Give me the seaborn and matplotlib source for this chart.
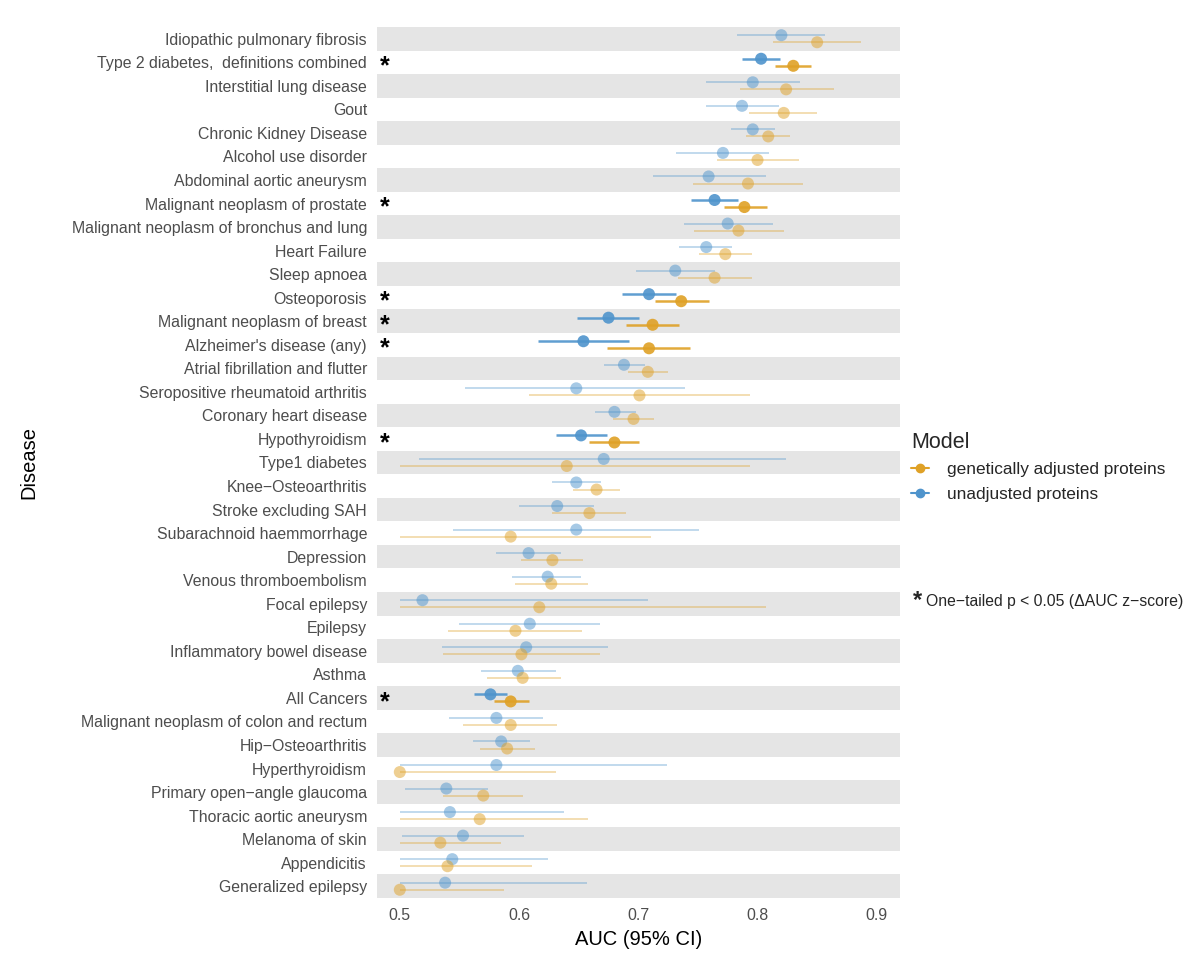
import numpy as np
import pandas as pd
import matplotlib
matplotlib.use("Agg")
import matplotlib.pyplot as plt
import seaborn as sns
from matplotlib.lines import Line2D

# data
diseases = [
    "Idiopathic pulmonary fibrosis", "Type 2 diabetes,  definitions combined",
    "Interstitial lung disease", "Gout", "Chronic Kidney Disease",
    "Alcohol use disorder", "Abdominal aortic aneurysm",
    "Malignant neoplasm of prostate", "Malignant neoplasm of bronchus and lung",
    "Heart Failure", "Sleep apnoea", "Osteoporosis",
    "Malignant neoplasm of breast", "Alzheimer's disease (any)",
    "Atrial fibrillation and flutter", "Seropositive rheumatoid arthritis",
    "Coronary heart disease", "Hypothyroidism", "Type1 diabetes",
    "Knee\u2212Osteoarthritis", "Stroke excluding SAH",
    "Subarachnoid haemmorrhage", "Depression", "Venous thromboembolism",
    "Focal epilepsy", "Epilepsy", "Inflammatory bowel disease", "Asthma",
    "All Cancers", "Malignant neoplasm of colon and rectum",
    "Hip\u2212Osteoarthritis", "Hyperthyroidism", "Primary open\u2212angle glaucoma",
    "Thoracic aortic aneurysm", "Melanoma of skin", "Appendicitis",
    "Generalized epilepsy",
]
significant = [0, 1, 0, 0, 0, 0, 0, 1, 0, 0, 0, 1, 1, 1, 0, 0, 0, 1, 0,
               0, 0, 0, 0, 0, 0, 0, 0, 0, 1, 0, 0, 0, 0, 0, 0, 0, 0]

unadj_auc = [0.820, 0.803, 0.796, 0.787, 0.796, 0.771, 0.759, 0.764, 0.775,
             0.757, 0.731, 0.709, 0.675, 0.654, 0.688, 0.648, 0.680, 0.652,
             0.671, 0.648, 0.632, 0.648, 0.608, 0.624, 0.519, 0.609, 0.606,
             0.599, 0.576, 0.581, 0.585, 0.581, 0.539, 0.542, 0.553, 0.544,
             0.538]
unadj_lo = [0.783, 0.787, 0.757, 0.757, 0.778, 0.732, 0.712, 0.744, 0.738,
            0.734, 0.698, 0.686, 0.649, 0.616, 0.671, 0.555, 0.664, 0.631,
            0.516, 0.628, 0.600, 0.545, 0.581, 0.594, 0.500, 0.550, 0.535,
            0.568, 0.562, 0.541, 0.561, 0.500, 0.504, 0.500, 0.502, 0.500,
            0.500]
unadj_hi = [0.857, 0.819, 0.836, 0.818, 0.815, 0.810, 0.807, 0.784, 0.813,
            0.779, 0.764, 0.732, 0.701, 0.692, 0.706, 0.739, 0.698, 0.674,
            0.824, 0.669, 0.663, 0.751, 0.635, 0.652, 0.708, 0.668, 0.675,
            0.631, 0.590, 0.620, 0.609, 0.724, 0.574, 0.638, 0.604, 0.624,
            0.657]

adj_auc = [0.850, 0.830, 0.824, 0.822, 0.809, 0.800, 0.792, 0.789, 0.784,
           0.773, 0.764, 0.736, 0.712, 0.709, 0.708, 0.701, 0.696, 0.680,
           0.640, 0.665, 0.659, 0.593, 0.628, 0.627, 0.617, 0.597, 0.602,
           0.603, 0.593, 0.593, 0.590, 0.500, 0.570, 0.567, 0.534, 0.540,
           0.500]
adj_lo = [0.813, 0.815, 0.785, 0.793, 0.790, 0.766, 0.746, 0.772, 0.747,
          0.751, 0.733, 0.714, 0.690, 0.674, 0.691, 0.608, 0.679, 0.659,
          0.500, 0.645, 0.628, 0.500, 0.602, 0.597, 0.500, 0.540, 0.536,
          0.573, 0.579, 0.553, 0.567, 0.500, 0.536, 0.500, 0.500, 0.500,
          0.500]
adj_hi = [0.887, 0.845, 0.864, 0.850, 0.827, 0.835, 0.838, 0.808, 0.822,
          0.795, 0.795, 0.759, 0.734, 0.743, 0.725, 0.794, 0.713, 0.701,
          0.794, 0.685, 0.690, 0.711, 0.654, 0.658, 0.807, 0.653, 0.668,
          0.635, 0.608, 0.632, 0.613, 0.631, 0.603, 0.658, 0.585, 0.611,
          0.587]

models = ["genetically adjusted proteins", "unadjusted proteins"]
colors = {"genetically adjusted proteins": "#DFA126",
          "unadjusted proteins": "#4F94CC"}
x_ticks = [0.5, 0.6, 0.7, 0.8, 0.9]

rows = []
for i, d in enumerate(diseases):
    rows.append(dict(disease=d, pos=i - 0.15, model=models[1], auc=unadj_auc[i],
                     lo=unadj_lo[i], hi=unadj_hi[i], sig=significant[i]))
    rows.append(dict(disease=d, pos=i + 0.15, model=models[0], auc=adj_auc[i],
                     lo=adj_lo[i], hi=adj_hi[i], sig=significant[i]))
df = pd.DataFrame(rows)

sns.set_theme(style="white")
plt.rcParams["font.family"] = ["Liberation Sans", "DejaVu Sans"]

fig = plt.figure(figsize=(12, 9.63), dpi=100)
ax = fig.add_axes([0.314, 0.0675, 0.436, 0.9045])

n = len(diseases)
for i in range(0, n, 2):
    ax.axhspan(i - 0.5, i + 0.5, color="#E5E5E5", lw=0, zorder=0)

for is_sig, a_line, a_pt, lw in [(0, 0.45, 0.5, 1.1), (1, 0.9, 0.9, 1.8)]:
    sub = df[df.sig == is_sig]
    for m in models:
        s = sub[sub.model == m]
        ax.hlines(s.pos, s.lo, s.hi, color=colors[m], alpha=a_line, lw=lw, zorder=2)
    sns.scatterplot(data=sub, x="auc", y="pos", hue="model", palette=colors,
                    s=75, alpha=a_pt, edgecolor="none", legend=False, ax=ax,
                    zorder=3)

for i, sg in enumerate(significant):
    if sg:
        ax.text(0.4872, i + 0.17, "*", fontsize=18, ha="center", va="center",
                color="black", fontweight="bold")

ax.set_xlim(0.4807, 0.9195)
ax.set_ylim(n - 0.5, -0.5)
ax.set_yticks(range(n))
ax.set_yticklabels(diseases)
ax.set_xticks(x_ticks)
ax.set_xticklabels([f"{t:.1f}" for t in x_ticks])
ax.tick_params(axis="y", length=0, pad=7, labelsize=11.4, labelcolor="#4D4D4D")
ax.tick_params(axis="x", length=0, pad=7, labelsize=11.4, labelcolor="#4D4D4D")
ax.set_xlabel("AUC (95% CI)", fontsize=14.5, color="black", labelpad=5)
ax.set_ylabel("Disease", fontsize=14.5, color="black", labelpad=24)
sns.despine(ax=ax, left=True, bottom=True)
ax.grid(False)

handles = [Line2D([], [], color=colors[m], marker="o", markersize=6, lw=1.5)
           for m in models]
leg = fig.legend(handles, models, title="Model", loc="upper left",
                 bbox_to_anchor=(0.7465, 0.568), frameon=False, fontsize=12.4,
                 title_fontsize=15.5, handlelength=1.0, handletextpad=1.1,
                 labelspacing=0.55)
leg._legend_box.align = "left"

fig.text(0.761, 0.376, "*", fontsize=17, fontweight="bold", ha="left", va="center")
fig.text(0.772, 0.375, "One\u2212tailed p < 0.05 (\u0394AUC z\u2212score)",
         fontsize=11.3, ha="left", va="center")

fig.savefig("out.png", dpi=100)
